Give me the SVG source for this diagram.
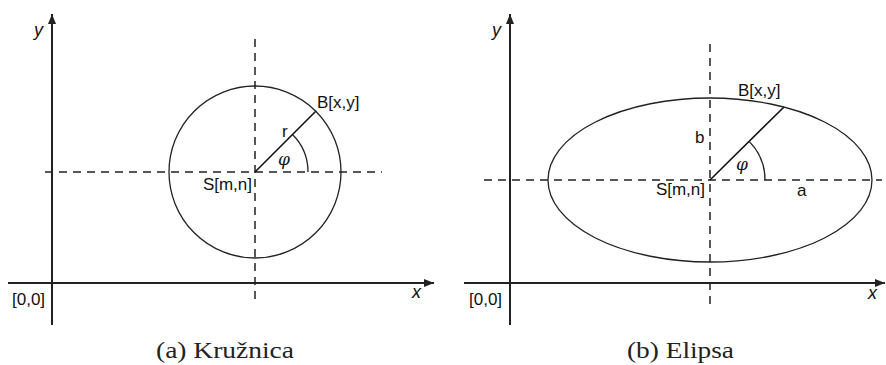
<svg xmlns="http://www.w3.org/2000/svg" width="886" height="365" viewBox="0 0 886 365">
<defs>
<marker id="ah" viewBox="0 0 10 8" refX="10" refY="4" markerWidth="5" markerHeight="4" orient="auto" markerUnits="strokeWidth">
<path d="M0,0 L10,4 L0,8 Z" fill="#222"/>
</marker>
<style>
.axis{stroke:#222;stroke-width:2;fill:none}
.dash{stroke:#222;stroke-width:1.5;stroke-dasharray:8 6;fill:none}
.shape{stroke:#222;stroke-width:1.3;fill:none}
.rad{stroke:#111;stroke-width:1.6;fill:none}
.lbl{font-family:"Liberation Sans",Arial,sans-serif;font-size:17px;fill:#111}
.ax{font-family:"Liberation Sans",Arial,sans-serif;font-size:18px;font-style:italic;fill:#111}
.phi{font-family:"DejaVu Serif","Liberation Serif",serif;font-size:17px;font-style:italic;fill:#111}
.cap{font-family:"Liberation Serif","Times New Roman",serif;font-size:23px;fill:#222}
</style>
</defs>
<g id="connectors">
<line class="axis" x1="52" y1="325" x2="52" y2="14" marker-end="url(#ah)"/>
<line class="axis" x1="8" y1="283" x2="434" y2="283" marker-end="url(#ah)"/>
<line class="dash" x1="45" y1="172" x2="382" y2="172"/>
<line class="dash" x1="255" y1="39" x2="255" y2="302"/>
<line class="rad" x1="255" y1="172" x2="316" y2="111"/>
<path class="shape" d="M308,172 A53,53 0 0 0 292.5,134.5"/>
<line class="axis" x1="510" y1="325" x2="510" y2="14" marker-end="url(#ah)"/>
<line class="axis" x1="464" y1="283" x2="885" y2="283" marker-end="url(#ah)"/>
<line class="dash" x1="484" y1="180" x2="882" y2="180"/>
<line class="dash" x1="710" y1="44" x2="710" y2="306"/>
<line class="rad" x1="710" y1="180" x2="784" y2="107"/>
<path class="shape" d="M765,180 A55,55 0 0 0 748.9,141.1"/>
</g>
<g id="circle">
<circle class="shape" cx="255" cy="172" r="86"/>
</g>
<g id="ellipse">
<ellipse class="shape" cx="710" cy="180" rx="162" ry="82"/>
</g>
<g id="labels-a">
<text class="ax" x="34" y="36">y</text>
<text class="ax" x="412" y="298">x</text>
<text class="lbl" x="12" y="305">[0,0]</text>
<text class="lbl" x="252" y="190" text-anchor="end">S[m,n]</text>
<text class="lbl" x="317" y="108">B[x,y]</text>
<text class="lbl" x="282" y="137">r</text>
<text class="phi" x="278" y="165">φ</text>
<text class="cap" x="156" y="358" textLength="138" lengthAdjust="spacingAndGlyphs">(a) Kružnica</text>
</g>
<g id="labels-b">
<text class="ax" x="492" y="36">y</text>
<text class="ax" x="868" y="299">x</text>
<text class="lbl" x="469" y="305">[0,0]</text>
<text class="lbl" x="705" y="195" text-anchor="end">S[m,n]</text>
<text class="lbl" x="738" y="96">B[x,y]</text>
<text class="lbl" x="695" y="143">b</text>
<text class="lbl" x="797" y="196">a</text>
<text class="phi" x="736" y="170">φ</text>
<text class="cap" x="627" y="358" textLength="107" lengthAdjust="spacingAndGlyphs">(b) Elipsa</text>
</g>
</svg>
